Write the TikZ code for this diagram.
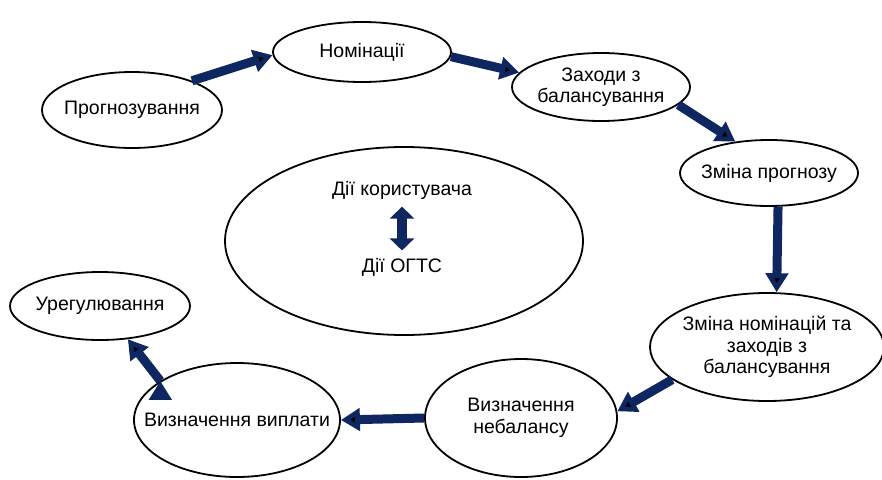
\documentclass[tikz,border=0pt]{standalone}
\usepackage{fontspec}
\setmainfont{Liberation Sans}
\usetikzlibrary{shapes.geometric,arrows.meta}
\definecolor{navy}{RGB}{14,39,96}

\begin{document}
\begin{tikzpicture}[x=1pt,y=-1pt,
    label text/.style={font=\fontsize{19.5}{21.5}\selectfont,align=center},
    stage/.style={ellipse,draw,line width=1.8pt,inner sep=0pt,
                  label={[label text]center:#1}},
    flow/.style={draw=navy,line width=9pt,-{Triangle[length=19pt,width=22pt]}}]
  \useasboundingbox (0,0) rectangle (882,479);
  \node[stage=Прогнозування,minimum width=180pt,minimum height=76pt] (prog) at (132,110) {};
  \node[stage=Номінації,minimum width=178pt,minimum height=60pt] (nom) at (362,52) {};
  \node[stage={Заходи з\\балансування},minimum width=178pt,minimum height=68pt] (zah) at (601,87) {};
  \node[stage=Зміна прогнозу,minimum width=178pt,minimum height=66pt] (zmp) at (769,173) {};
  \node[stage=,minimum width=358pt,minimum height=188pt] (dii) at (404,241) {};
  \node[stage={Зміна номінацій та\\заходів з\\балансування},minimum width=234pt,minimum height=108pt] (zmn) at (767,347) {};
  \node[stage={Визначення\\небалансу},minimum width=192pt,minimum height=118pt] (neb) at (521,418) {};
  \node[stage=Визначення виплати,minimum width=206pt,minimum height=114pt] (vyp) at (237,420) {};
  \node[stage=Урегулювання,minimum width=180pt,minimum height=68pt] (ure) at (100,306) {};
  \node[label text] (user) at (402,190) {Дії користувача};
  \node[label text] (ogts) at (402,267) {Дії ОГТС};
  \draw[navy,line width=10pt,shorten <=4pt,shorten >=4pt,
        {Triangle[length=12pt,width=24pt]}-{Triangle[length=12pt,width=24pt]}] (user) -- (ogts);
  \path[flow]
    (prog.26) edge (nom.182)
    (nom.-3) edge (zah.170)
    (zah.-13) edge (zmp.137)
    (zmp.-75) edge (zmn.80)
    (zmn.199) edge (neb.4)
    (neb.180) edge (vyp.0)
    (vyp.153) edge (ure.-50);
\end{tikzpicture}
\end{document}
